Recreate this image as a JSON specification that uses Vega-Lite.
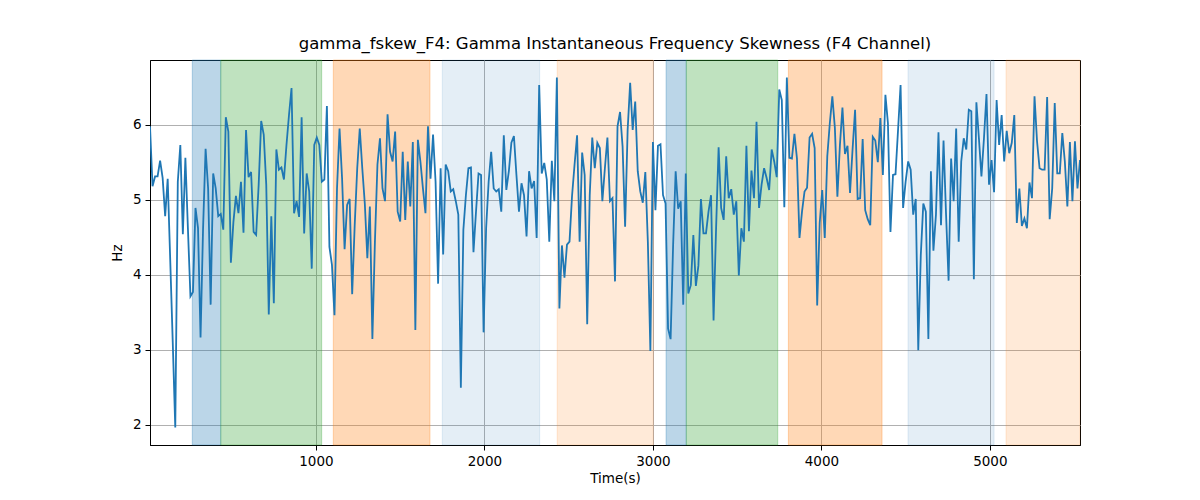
{
"$schema": "https://vega.github.io/schema/vega-lite/v6.json",
"width": 930, "height": 385,
"autosize": {"type": "none"},
"padding": {"left": 150, "top": 60, "right": 120, "bottom": 55},
"background": "white",
"title": {"text": "gamma_fskew_F4: Gamma Instantaneous Frequency Skewness (F4 Channel)", "font": "DejaVu Sans", "fontSize": 16.5, "fontWeight": "normal", "color": "black", "offset": 7},
"config": {
  "view": {"stroke": "black", "strokeWidth": 1},
  "axis": {"domainColor": "black", "domainWidth": 1, "tickColor": "black", "tickSize": 5, "tickWidth": 1, "labelFont": "DejaVu Sans", "labelFontSize": 13.5, "labelColor": "black", "labelPadding": 4, "titleFont": "DejaVu Sans", "titleFontSize": 13.5, "titleFontWeight": "normal", "titleColor": "black", "gridColor": "#b0b0b0", "gridWidth": 1}
},
"datasets": {
  "spans": [
    {"start": 266, "end": 435, "kind": "blue"},
    {"start": 435, "end": 1034, "kind": "green"},
    {"start": 1103, "end": 1677, "kind": "orange"},
    {"start": 1750, "end": 2328, "kind": "lightblue"},
    {"start": 2432, "end": 3002, "kind": "lightorange"},
    {"start": 3078, "end": 3198, "kind": "blue"},
    {"start": 3198, "end": 3741, "kind": "green"},
    {"start": 3804, "end": 4360, "kind": "orange"},
    {"start": 4514, "end": 5025, "kind": "lightblue"},
    {"start": 5096, "end": 5535, "kind": "lightorange"}
  ],
  "series": [
{"t":15,"hz":5.98},{"t":30,"hz":5.18},{"t":45,"hz":5.31},{"t":60,"hz":5.31},{"t":75,"hz":5.52},{"t":90,"hz":5.29},{"t":105,"hz":4.78},{"t":120,"hz":5.28},{"t":135,"hz":4.2},{"t":150,"hz":3.1},{"t":165,"hz":1.96},{"t":180,"hz":5.24},{"t":195,"hz":5.73},{"t":210,"hz":4.54},{"t":225,"hz":5.56},{"t":240,"hz":4.62},{"t":255,"hz":3.71},{"t":270,"hz":3.77},{"t":285,"hz":4.89},{"t":300,"hz":4.62},{"t":315,"hz":3.16},{"t":330,"hz":4.62},{"t":345,"hz":5.68},{"t":360,"hz":5.15},{"t":375,"hz":3.60},{"t":390,"hz":5.35},{"t":405,"hz":5.15},{"t":420,"hz":4.78},{"t":435,"hz":4.81},{"t":450,"hz":4.60},{"t":465,"hz":6.10},{"t":480,"hz":5.91},{"t":495,"hz":4.16},
{"t":510,"hz":4.70},{"t":525,"hz":5.05},{"t":540,"hz":4.82},{"t":555,"hz":5.24},{"t":570,"hz":4.56},{"t":585,"hz":5.93},{"t":600,"hz":5.30},{"t":615,"hz":5.37},{"t":630,"hz":4.57},{"t":645,"hz":4.53},{"t":660,"hz":5.20},{"t":675,"hz":6.05},{"t":690,"hz":5.87},{"t":705,"hz":5.20},{"t":720,"hz":3.47},{"t":735,"hz":4.78},{"t":750,"hz":3.62},{"t":765,"hz":5.67},{"t":780,"hz":5.40},{"t":795,"hz":5.43},{"t":810,"hz":5.27},{"t":825,"hz":5.73},{"t":840,"hz":6.13},{"t":855,"hz":6.49},{"t":870,"hz":4.82},{"t":885,"hz":4.98},{"t":900,"hz":4.77},{"t":915,"hz":6.10},{"t":930,"hz":4.55},{"t":945,"hz":5.35},{"t":960,"hz":5.11},{"t":975,"hz":4.08},{"t":990,"hz":5.73},{"t":1005,"hz":5.83},
{"t":1020,"hz":5.73},{"t":1035,"hz":5.24},{"t":1050,"hz":5.27},{"t":1065,"hz":6.25},{"t":1080,"hz":4.37},{"t":1095,"hz":4.13},{"t":1110,"hz":3.46},{"t":1125,"hz":5.15},{"t":1140,"hz":5.95},{"t":1155,"hz":5.29},{"t":1170,"hz":4.34},{"t":1185,"hz":4.93},{"t":1200,"hz":5.01},{"t":1215,"hz":3.74},{"t":1230,"hz":4.66},{"t":1245,"hz":5.42},{"t":1260,"hz":5.95},{"t":1275,"hz":5.42},{"t":1290,"hz":4.95},{"t":1305,"hz":4.22},{"t":1320,"hz":4.91},{"t":1335,"hz":3.14},{"t":1350,"hz":4.44},{"t":1365,"hz":5.47},{"t":1380,"hz":5.82},{"t":1395,"hz":5.15},{"t":1410,"hz":4.98},{"t":1425,"hz":6.14},{"t":1440,"hz":5.64},{"t":1455,"hz":5.51},{"t":1470,"hz":5.91},{"t":1485,"hz":4.84},{"t":1500,"hz":4.71},
{"t":1515,"hz":5.64},{"t":1530,"hz":4.73},{"t":1545,"hz":5.51},{"t":1560,"hz":4.91},{"t":1575,"hz":5.77},{"t":1590,"hz":3.26},{"t":1605,"hz":5.80},{"t":1620,"hz":5.51},{"t":1635,"hz":5.15},{"t":1650,"hz":4.82},{"t":1665,"hz":5.98},{"t":1680,"hz":5.28},{"t":1695,"hz":5.87},{"t":1710,"hz":5.24},{"t":1725,"hz":3.88},{"t":1740,"hz":5.42},{"t":1755,"hz":4.27},{"t":1770,"hz":5.47},{"t":1785,"hz":5.38},{"t":1800,"hz":5.11},{"t":1815,"hz":5.14},{"t":1830,"hz":4.98},{"t":1845,"hz":4.80},{"t":1860,"hz":2.49},{"t":1875,"hz":4.60},{"t":1890,"hz":5.06},{"t":1905,"hz":5.42},{"t":1920,"hz":5.43},{"t":1935,"hz":4.30},{"t":1950,"hz":4.84},{"t":1965,"hz":5.35},{"t":1980,"hz":5.33},{"t":1995,"hz":3.23},{"t":2010,"hz":4.62},
{"t":2025,"hz":5.24},{"t":2040,"hz":5.64},{"t":2055,"hz":5.15},{"t":2070,"hz":5.11},{"t":2085,"hz":5.14},{"t":2100,"hz":4.84},{"t":2115,"hz":5.86},{"t":2130,"hz":5.13},{"t":2145,"hz":5.38},{"t":2160,"hz":5.76},{"t":2175,"hz":5.85},{"t":2190,"hz":5.33},{"t":2205,"hz":4.84},{"t":2220,"hz":5.22},{"t":2235,"hz":5.06},{"t":2250,"hz":4.51},{"t":2265,"hz":5.38},{"t":2280,"hz":5.15},{"t":2295,"hz":5.25},{"t":2310,"hz":4.49},{"t":2325,"hz":6.53},{"t":2340,"hz":5.35},{"t":2355,"hz":5.49},{"t":2370,"hz":5.27},{"t":2385,"hz":4.44},{"t":2400,"hz":5.52},{"t":2415,"hz":4.98},{"t":2430,"hz":6.63},{"t":2445,"hz":3.55},{"t":2460,"hz":4.39},{"t":2475,"hz":3.96},{"t":2490,"hz":4.40},{"t":2505,"hz":4.44},
{"t":2520,"hz":5.05},{"t":2535,"hz":5.47},{"t":2550,"hz":5.86},{"t":2565,"hz":4.44},{"t":2580,"hz":5.63},{"t":2595,"hz":5.33},{"t":2610,"hz":3.34},{"t":2625,"hz":5.06},{"t":2640,"hz":5.83},{"t":2655,"hz":5.42},{"t":2670,"hz":5.76},{"t":2685,"hz":5.69},{"t":2700,"hz":4.98},{"t":2715,"hz":5.42},{"t":2730,"hz":5.83},{"t":2745,"hz":4.98},{"t":2760,"hz":5.02},{"t":2775,"hz":3.91},{"t":2790,"hz":5.98},{"t":2805,"hz":6.17},{"t":2820,"hz":5.71},{"t":2835,"hz":4.64},{"t":2850,"hz":5.93},{"t":2865,"hz":6.56},{"t":2880,"hz":5.93},{"t":2895,"hz":6.31},{"t":2910,"hz":5.38},{"t":2925,"hz":5.11},{"t":2940,"hz":4.96},{"t":2955,"hz":5.37},{"t":2970,"hz":4.44},{"t":2985,"hz":2.98},{"t":3000,"hz":5.77},
{"t":3015,"hz":4.86},{"t":3030,"hz":5.72},{"t":3045,"hz":5.74},{"t":3060,"hz":5.06},{"t":3075,"hz":4.95},{"t":3090,"hz":3.28},{"t":3105,"hz":3.14},{"t":3120,"hz":4.40},{"t":3135,"hz":5.38},{"t":3150,"hz":4.88},{"t":3165,"hz":4.98},{"t":3180,"hz":3.60},{"t":3195,"hz":5.35},{"t":3210,"hz":3.75},{"t":3225,"hz":3.86},{"t":3240,"hz":4.53},{"t":3255,"hz":3.85},{"t":3270,"hz":4.12},{"t":3285,"hz":5.01},{"t":3300,"hz":4.55},{"t":3315,"hz":4.55},{"t":3330,"hz":4.84},{"t":3345,"hz":5.06},{"t":3360,"hz":3.39},{"t":3375,"hz":4.62},{"t":3390,"hz":5.70},{"t":3405,"hz":4.89},{"t":3420,"hz":4.73},{"t":3435,"hz":5.58},{"t":3450,"hz":5.02},{"t":3465,"hz":5.14},{"t":3480,"hz":4.80},{"t":3495,"hz":4.98},{"t":3510,"hz":3.99},
{"t":3525,"hz":4.62},{"t":3540,"hz":4.44},{"t":3555,"hz":5.72},{"t":3570,"hz":4.58},{"t":3585,"hz":5.39},{"t":3600,"hz":5.02},{"t":3615,"hz":6.04},{"t":3630,"hz":4.89},{"t":3645,"hz":5.20},{"t":3660,"hz":5.42},{"t":3675,"hz":5.29},{"t":3690,"hz":5.13},{"t":3705,"hz":5.67},{"t":3720,"hz":5.51},{"t":3735,"hz":5.30},{"t":3750,"hz":6.47},{"t":3765,"hz":6.33},{"t":3780,"hz":4.90},{"t":3795,"hz":6.63},{"t":3810,"hz":5.56},{"t":3825,"hz":5.55},{"t":3840,"hz":5.88},{"t":3855,"hz":5.55},{"t":3870,"hz":4.49},{"t":3885,"hz":4.84},{"t":3900,"hz":5.11},{"t":3915,"hz":5.16},{"t":3930,"hz":5.83},{"t":3945,"hz":5.88},{"t":3960,"hz":5.69},{"t":3975,"hz":3.59},{"t":3990,"hz":4.69},{"t":4005,"hz":5.13},{"t":4020,"hz":4.49},
{"t":4035,"hz":5.58},{"t":4050,"hz":6.02},{"t":4065,"hz":6.38},{"t":4080,"hz":5.96},{"t":4095,"hz":5.04},{"t":4110,"hz":5.73},{"t":4125,"hz":6.23},{"t":4140,"hz":5.61},{"t":4155,"hz":5.72},{"t":4170,"hz":5.09},{"t":4185,"hz":5.67},{"t":4200,"hz":6.20},{"t":4215,"hz":5.01},{"t":4230,"hz":5.02},{"t":4245,"hz":5.81},{"t":4260,"hz":4.86},{"t":4275,"hz":4.74},{"t":4290,"hz":4.66},{"t":4305,"hz":5.84},{"t":4320,"hz":5.79},{"t":4335,"hz":5.50},{"t":4350,"hz":6.09},{"t":4365,"hz":5.33},{"t":4380,"hz":6.40},{"t":4395,"hz":6.02},{"t":4410,"hz":4.57},{"t":4425,"hz":5.33},{"t":4440,"hz":5.34},{"t":4455,"hz":5.93},{"t":4470,"hz":6.53},{"t":4485,"hz":4.89},{"t":4500,"hz":5.24},{"t":4515,"hz":5.51},
{"t":4530,"hz":5.40},{"t":4545,"hz":4.80},{"t":4560,"hz":5.01},{"t":4575,"hz":2.99},{"t":4590,"hz":4.26},{"t":4605,"hz":4.95},{"t":4620,"hz":4.84},{"t":4635,"hz":3.14},{"t":4650,"hz":5.38},{"t":4665,"hz":4.32},{"t":4680,"hz":4.80},{"t":4695,"hz":5.90},{"t":4710,"hz":4.66},{"t":4725,"hz":5.79},{"t":4740,"hz":4.80},{"t":4755,"hz":3.92},{"t":4770,"hz":5.55},{"t":4785,"hz":4.98},{"t":4800,"hz":5.95},{"t":4815,"hz":4.44},{"t":4830,"hz":5.51},{"t":4845,"hz":5.82},{"t":4860,"hz":5.67},{"t":4875,"hz":6.20},{"t":4890,"hz":6.18},{"t":4905,"hz":3.94},{"t":4920,"hz":6.30},{"t":4935,"hz":5.82},{"t":4950,"hz":5.31},{"t":4965,"hz":5.82},{"t":4980,"hz":6.41},{"t":4995,"hz":5.20},{"t":5010,"hz":5.53},{"t":5025,"hz":5.10},
{"t":5040,"hz":6.33},{"t":5055,"hz":5.73},{"t":5070,"hz":6.13},{"t":5085,"hz":5.51},{"t":5100,"hz":5.92},{"t":5115,"hz":5.62},{"t":5130,"hz":5.76},{"t":5145,"hz":6.13},{"t":5160,"hz":4.69},{"t":5175,"hz":5.15},{"t":5190,"hz":4.65},{"t":5205,"hz":4.75},{"t":5220,"hz":4.62},{"t":5235,"hz":5.23},{"t":5250,"hz":5.02},{"t":5265,"hz":6.38},{"t":5280,"hz":5.78},{"t":5295,"hz":5.42},{"t":5310,"hz":5.40},{"t":5325,"hz":5.40},{"t":5340,"hz":6.37},{"t":5355,"hz":4.74},{"t":5370,"hz":5.15},{"t":5385,"hz":6.29},{"t":5400,"hz":5.35},{"t":5415,"hz":5.35},{"t":5430,"hz":5.89},{"t":5445,"hz":5.51},{"t":5460,"hz":4.91},{"t":5475,"hz":5.77},{"t":5490,"hz":4.98},{"t":5505,"hz":5.78},{"t":5520,"hz":5.15},{"t":5535,"hz":5.53}
  ]
},
"layer": [
  {
    "data": {"name": "spans"},
    "mark": {"type": "rect", "strokeWidth": 1},
    "encoding": {
      "x": {"field": "start", "type": "quantitative", "scale": {"domain": [15, 5535], "nice": false, "zero": false}, "axis": {"title": "Time(s)", "values": [1000, 2000, 3000, 4000, 5000], "format": "d", "titlePadding": 4}},
      "x2": {"field": "end"},
      "color": {"field": "kind", "type": "nominal", "scale": {"domain": ["blue", "green", "orange", "lightblue", "lightorange"], "range": ["rgba(31,119,180,0.3)", "rgba(44,160,44,0.3)", "rgba(255,127,14,0.3)", "rgba(31,119,180,0.12)", "rgba(255,127,14,0.16)"]}, "legend": null},
      "stroke": {"field": "kind", "type": "nominal", "scale": {"domain": ["blue", "green", "orange", "lightblue", "lightorange"], "range": ["rgba(31,119,180,0.3)", "rgba(44,160,44,0.3)", "rgba(255,127,14,0.3)", "rgba(31,119,180,0.12)", "rgba(255,127,14,0.16)"]}, "legend": null}
    }
  },
  {
    "data": {"name": "series"},
    "mark": {"type": "line", "color": "#1f77b4", "strokeWidth": 1.8, "clip": true},
    "encoding": {
      "x": {"field": "t", "type": "quantitative", "scale": {"domain": [15, 5535], "nice": false, "zero": false}, "axis": {"title": "Time(s)", "values": [1000, 2000, 3000, 4000, 5000], "format": "d", "titlePadding": 4}},
      "y": {"field": "hz", "type": "quantitative", "scale": {"domain": [1.727, 6.864], "nice": false, "zero": false}, "axis": {"title": "Hz", "values": [2, 3, 4, 5, 6], "format": "d", "titlePadding": 8}}
    }
  }
]
}
